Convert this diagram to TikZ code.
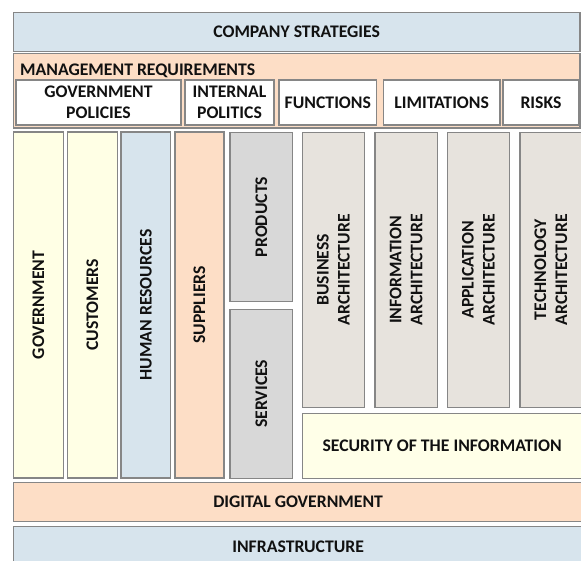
\documentclass[tikz,border=0pt]{standalone}
\usepackage{fontspec}
\setmainfont{Carlito}
\definecolor{blueF}{HTML}{D7E4ED}
\definecolor{orangeF}{HTML}{FDDEC6}
\definecolor{yellowF}{HTML}{FFFFE5}
\definecolor{grayF}{HTML}{D8D8D8}
\definecolor{beigeF}{HTML}{E7E3DD}
\definecolor{secF}{HTML}{FFFFE8}
\definecolor{edgeC}{HTML}{868686}
\definecolor{txtC}{HTML}{111111}
\begin{document}
\begin{tikzpicture}[x=1pt,y=-1pt,
  box/.style={draw=edgeC,line width=1.3pt},
  lbl/.style={font=\fontsize{17.7}{21}\selectfont\bfseries,text=txtC,align=center,inner sep=0pt},
  vlbl/.style={lbl,rotate=90}]
\useasboundingbox (0,0) rectangle (581,561);
\clip (0,0) rectangle (581,561);
% top bands
\draw[box,fill=blueF] (13.3,12.7) rectangle (580,51.7) node[midway,lbl] (cs) {COMPANY STRATEGIES};
\draw[box,fill=orangeF] (13.3,53.3) rectangle (580,128);
\node[lbl,anchor=west] (mr) at (20,71) {MANAGEMENT REQUIREMENTS};
\draw[box,fill=white] (16,80) rectangle (181,125) node[midway,lbl] (gp) {GOVERNMENT\\POLICIES};
\draw[box,fill=white] (185,80) rectangle (274,125) node[midway,lbl] (ip) {INTERNAL\\POLITICS};
\draw[box,fill=white] (279,80) rectangle (376.7,125) node[midway,lbl] (fn) {FUNCTIONS};
\draw[box,fill=white] (383.3,80) rectangle (500,125) node[midway,lbl] (lim) {LIMITATIONS};
\draw[box,fill=white] (503,80) rectangle (579,125) node[midway,lbl] (rk) {RISKS};
% columns
\draw[box,fill=yellowF] (13.3,132) rectangle (63.3,478) node[midway,vlbl] (gov) {GOVERNMENT};
\draw[box,fill=yellowF] (67.7,132) rectangle (117.3,478) node[midway,vlbl] (cu) {CUSTOMERS};
\draw[box,fill=blueF] (121,132) rectangle (170.7,478) node[midway,vlbl] (hr) {HUMAN RESOURCES};
\draw[box,fill=orangeF] (175,132) rectangle (224,478) node[midway,vlbl] (su) {SUPPLIERS};
\draw[box,fill=grayF] (230,132.3) rectangle (292.7,301.7) node[midway,vlbl] (pr) {PRODUCTS};
\draw[box,fill=grayF] (230,309.3) rectangle (292.7,478.3) node[midway,vlbl] (sv) {SERVICES};
% architectures
\draw[box,fill=beigeF] (302.7,132.3) rectangle (364.3,407.3) node[midway,vlbl] (ba) {BUSINESS\\ARCHITECTURE};
\draw[box,fill=beigeF] (375,132.3) rectangle (437.3,407.3) node[midway,vlbl] (ia) {INFORMATION\\ARCHITECTURE};
\draw[box,fill=beigeF] (447.3,132.3) rectangle (509.3,407.3) node[midway,vlbl] (aa) {APPLICATION\\ARCHITECTURE};
\draw[box,fill=beigeF] (520,132.3) rectangle (582,407.3) node[midway,vlbl] (ta) {TECHNOLOGY\\ARCHITECTURE};
\draw[box,fill=secF] (302.3,413.3) rectangle (582,478.3) node[midway,lbl] (sec) {SECURITY OF THE INFORMATION};
% bottom bands
\draw[box,fill=orangeF] (13.3,482.7) rectangle (583,521.7) node[midway,lbl] (dg) {DIGITAL GOVERNMENT};
\draw[box,fill=blueF] (13.3,526.7) rectangle (583,566) node[midway,lbl] (inf) {INFRASTRUCTURE};
\end{tikzpicture}
\end{document}
